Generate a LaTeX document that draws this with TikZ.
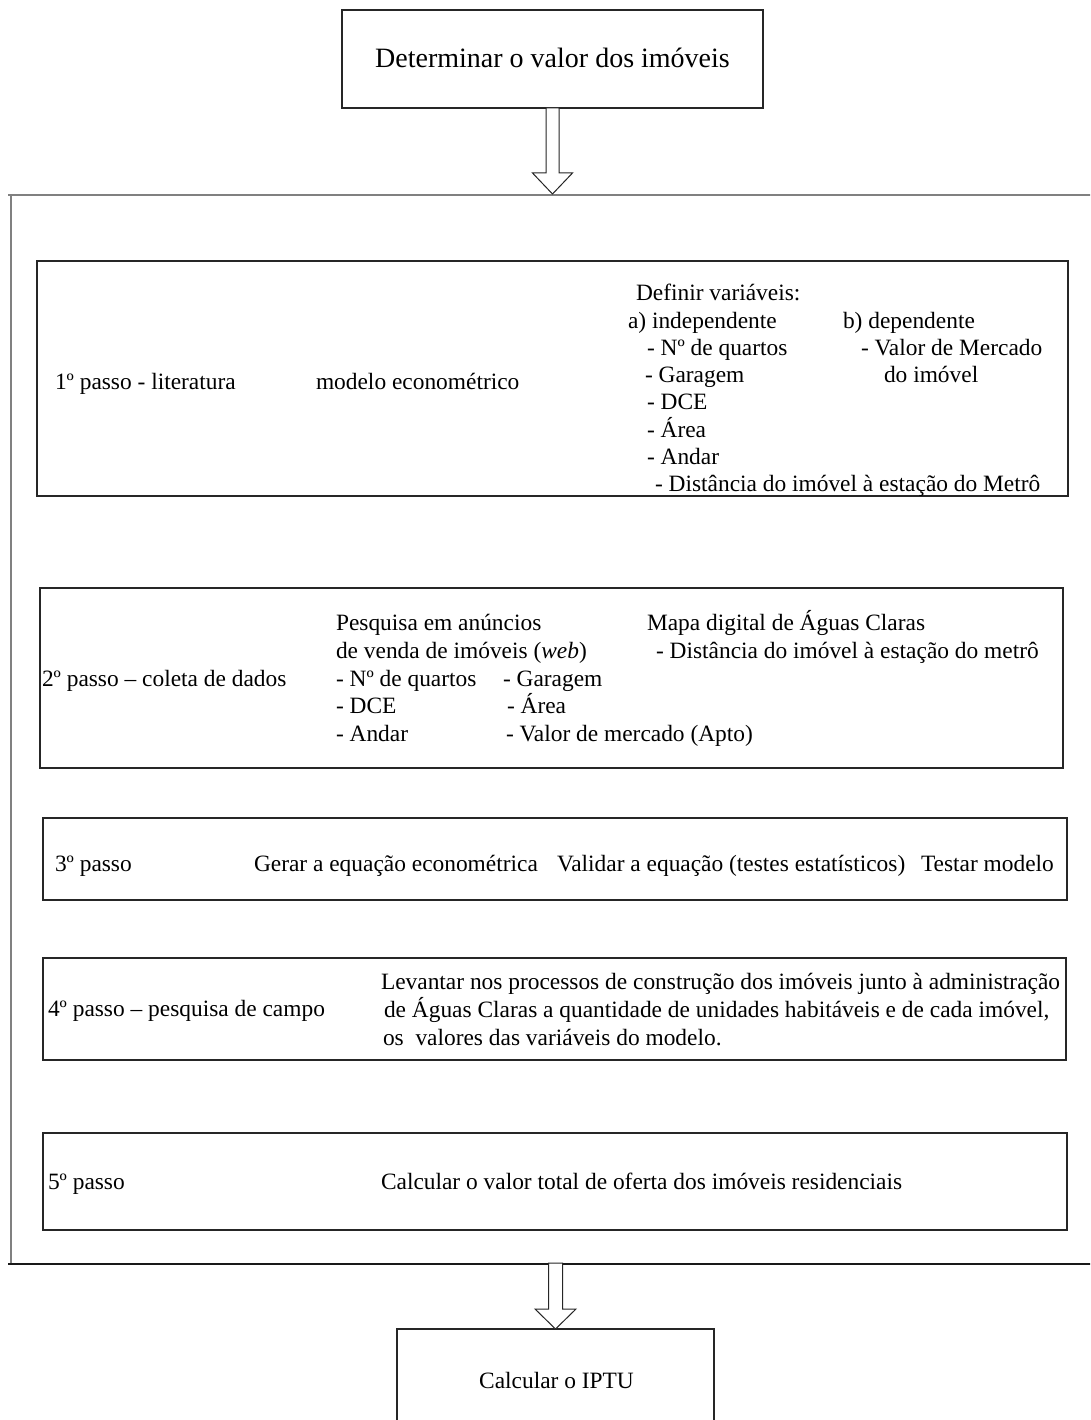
\documentclass[tikz,border=0pt]{standalone}
\usepackage{fontspec}
\setmainfont{Liberation Serif}
\usetikzlibrary{calc}
\begin{document}
\begin{tikzpicture}[x=1pt,y=-1pt,
  box/.style={draw=black!85,line width=1.2pt,inner sep=0pt,outer sep=0pt,anchor=north west},
  txt/.style={inner sep=0pt,outer sep=0pt,anchor=base west,font=\fontsize{23.4}{27}\selectfont},
  frameline/.style={draw=black!50,line width=2pt},
  blockarrow/.style={draw=black!85,line width=1pt,fill=white,line join=miter}]
\useasboundingbox (0,0) rectangle (1090,1420);
\clip (0,0) rectangle (1090,1420);
% top and bottom boxes
\node[box,minimum width=421pt,minimum height=98pt] (top) at (342,10) {};
\node[inner sep=0pt,font=\fontsize{28}{32}\selectfont] (toptxt) at (552.5,58) {Determinar o valor dos imóveis};
\node[box,minimum width=317pt,minimum height=102pt] (iptu) at (397,1329) {};
\node[inner sep=0pt,font=\fontsize{23.4}{27}\selectfont] (iptutxt) at (556.5,1380) {Calcular o IPTU};
% frame
\coordinate (ftop) at (552.5,194);
\coordinate (fbot) at (555.5,1263);
\draw[frameline] (8,195) -- (1092,195);
\draw[frameline] (11,195) -- (11,1264);
\draw[draw=black!90,line width=1.5pt] (8,1264) -- (1092,1264);
% arrows
\draw[blockarrow] ($(top.south)+(-6.5,0)$) -- ($(top.south)+(-6.5,65)$) -- ($(top.south)+(-20,65)$) -- (ftop)
  -- ($(top.south)+(20,65)$) -- ($(top.south)+(6.5,65)$) -- ($(top.south)+(6.5,0)$) -- cycle;
\draw[blockarrow] ($(fbot)+(-7,0)$) -- ($(fbot)+(-7,46)$) -- ($(fbot)+(-20.5,46)$) -- (iptu.north)
  -- ($(fbot)+(20.5,46)$) -- ($(fbot)+(7,46)$) -- ($(fbot)+(7,0)$) -- cycle;
% step boxes
\node[box,minimum width=1031pt,minimum height=235pt] (b1) at (37,261) {};
\node[box,minimum width=1023pt,minimum height=180pt] (b2) at (40,588) {};
\node[box,minimum width=1024pt,minimum height=82pt] (b3) at (43,818) {};
\node[box,minimum width=1023pt,minimum height=102pt] (b4) at (43,958) {};
\node[box,minimum width=1024pt,minimum height=97pt] (b5) at (43,1133) {};
% box 1 texts
\node[txt] (t1a) at (55,389) {1º passo - literatura};
\node[txt] (t1b) at (316,389) {modelo econométrico};
\node[txt] (t1c) at (636,301) {Definir variáveis:};
\node[txt] (t1d) at (628,328.2) {a) independente};
\node[txt] (t1e) at (843,328.2) {b) dependente};
\node[txt] (t1f) at (647,355.4) {- Nº de quartos};
\node[txt] (t1g) at (861,355.4) {- Valor de Mercado};
\node[txt] (t1h) at (645,382.6) {- Garagem};
\node[txt] (t1i) at (884,382.6) {do imóvel};
\node[txt] (t1j) at (647,409.8) {- DCE};
\node[txt] (t1k) at (647,437) {- Área};
\node[txt] (t1l) at (647,464.2) {- Andar};
\node[txt] (t1m) at (655,491.4) {- Distância do imóvel à estação do Metrô};
% box 2 texts
\node[txt] (t2a) at (42,686) {2º passo – coleta de dados};
\node[txt] (t2b) at (336,630) {Pesquisa em anúncios};
\node[txt] (t2c) at (336,658) {de venda de imóveis (\textit{web})};
\node[txt] (t2d) at (336,686) {- Nº de quartos};
\node[txt] (t2e) at (503,686) {- Garagem};
\node[txt] (t2f) at (336,713) {- DCE};
\node[txt] (t2g) at (507,713) {- Área};
\node[txt] (t2h) at (336,741) {- Andar};
\node[txt] (t2i) at (506,741) {- Valor de mercado (Apto)};
\node[txt] (t2j) at (647,630) {Mapa digital de Águas Claras};
\node[txt] (t2k) at (656,658) {- Distância do imóvel à estação do metrô};
% box 3 texts
\node[txt] (t3a) at (55,871) {3º passo};
\node[txt] (t3b) at (254,871) {Gerar a equação econométrica};
\node[txt] (t3c) at (557,871) {Validar a equação (testes estatísticos)};
\node[txt] (t3d) at (921,871) {Testar modelo};
% box 4 texts
\node[txt] (t4a) at (48,1016) {4º passo – pesquisa de campo};
\node[txt] (t4b) at (381,989) {Levantar nos processos de construção dos imóveis junto à administração};
\node[txt] (t4c) at (384,1017) {de Águas Claras a quantidade de unidades habitáveis e de cada imóvel,};
\node[txt] (t4d) at (383,1045) {os\ \ valores das variáveis do modelo.};
% box 5 texts
\node[txt] (t5a) at (48,1189) {5º passo};
\node[txt] (t5b) at (381,1189) {Calcular o valor total de oferta dos imóveis residenciais};
\end{tikzpicture}
\end{document}
